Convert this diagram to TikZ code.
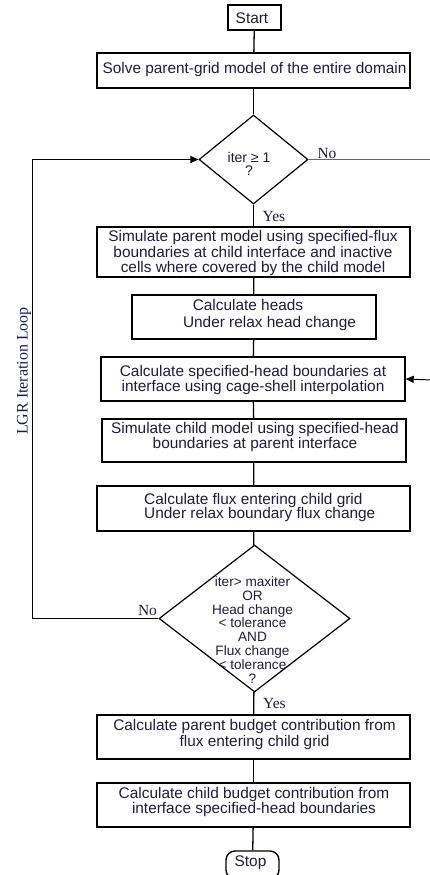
\documentclass[tikz,border=0pt]{standalone}
\usepackage{fontspec}
\setmainfont{Liberation Sans}
\newfontfamily\serifnb{Liberation Serif}
\usetikzlibrary{shapes.geometric,arrows.meta}
\definecolor{navy}{RGB}{28,28,64}
\definecolor{loopblue}{RGB}{22,32,92}
\begin{document}
\begin{tikzpicture}[x=1pt,y=-1pt,
  boxnode/.style n args={2}{draw,line width=1.4pt,inner sep=0,minimum width=#1,minimum height=#2},
  decnode/.style n args={2}{draw,diamond,line width=1.2pt,inner sep=0,minimum width=#1,minimum height=#2},
  tx/.style={text=navy,inner sep=0,align=center,font=\fontsize{15.4}{#1}\selectfont},
  tx/.default=15,
  lbl/.style={text=navy,inner sep=0,font=\serifnb\fontsize{15.5}{16}\selectfont},
  conn/.style={line width=1.3pt},
  tip/.style={-{Triangle[length=8pt,width=7pt]}}]
\path[use as bounding box] (0,0) rectangle (430,875);
\clip (0,0) rectangle (430,875);

% boxes
\node[boxnode={53pt}{25pt}] (start) at (254.5,17.5) {};
\node[boxnode={313pt}{35pt}] (solve) at (253.5,70.5) {};
\node[decnode={109pt}{89pt}] (d1) at (253.5,159.5) {};
\node[boxnode={313pt}{50pt}] (b3) at (253.5,252) {};
\node[boxnode={244pt}{44pt}] (b4) at (254,317) {};
\node[boxnode={304pt}{44pt}] (b5) at (253,379) {};
\node[boxnode={304pt}{43pt}] (b6) at (254,440.5) {};
\node[boxnode={313pt}{45pt}] (b7) at (253.5,508.5) {};
\node[decnode={191pt}{147pt}] (d2) at (254.5,618.5) {};
\node[boxnode={313pt}{44pt}] (b8) at (253.5,737) {};
\node[boxnode={313pt}{44pt}] (b9) at (253.5,805) {};
\node[boxnode={53pt}{28pt},rounded corners=9pt] (stop) at (252.5,865) {};

% texts
\node[tx] (tstart) at (252,18.5) {Start};
\node[tx] (tsolve) at (254.5,70) {Solve parent-grid model of the entire domain};
\node[tx={12.5},font=\fontsize{14}{12.5}\selectfont] (td1) at (249,164) {iter ≥ 1\\?};
\node[tx={15.5}] (t3) at (253,253.5) {Simulate parent model using specified-flux\\boundaries at child interface and inactive\\cells where covered by the child model};
\node[tx={17}] (t4) at (254,315.5) {Calculate heads\hbox to 12pt{}\\\hbox to 31pt{}Under relax head change};
\node[tx={15}] (t5) at (253,380.5) {Calculate specified-head boundaries at\\interface using cage-shell interpolation};
\node[tx={15}] (t6) at (255,437.5) {Simulate child model using specified-head\\boundaries at parent interface};
\node[tx={14.5},align=left,anchor=west] (t7) at (144,507.5) {Calculate flux entering child grid\\Under relax boundary flux change};
\node[tx,font=\fontsize{13.6}{13.9}\selectfont] (td2) at (252.5,630) {iter> maxiter\\OR\\Head change\\< tolerance\\AND\\Flux change\\< tolerance\\?};
\node[tx={13}] (t8) at (254.5,734.5) {Calculate parent budget contribution from\\flux entering child grid};
\node[tx={13.5}] (t9) at (254,802) {Calculate child budget contribution from\\interface specified-head boundaries};
\node[tx] (tstop) at (250.5,863) {Stop};

% labels
\node[lbl] (no1) at (327,153) {No};
\node[lbl] (yes1) at (274,216) {Yes};
\node[lbl] (no2) at (147.5,610) {No};
\node[lbl] (yes2) at (274.5,703) {Yes};
\node[text=loopblue,inner sep=0,rotate=90,font=\serifnb\fontsize{16}{16}\selectfont] (loop) at (24,371) {LGR Iteration Loop};

% connectors
\draw[conn] (start) -- (solve);
\draw[conn] (solve) -- (d1);
\draw[conn] (d1) -- (b3);
\draw[conn] (b3) -- (b4);
\draw[conn] (b4) -- (b5);
\draw[conn] (b5) -- (b6);
\draw[conn] (b6) -- (b7);
\draw[conn] (b7) -- (d2);
\draw[conn] (d2) -- (b8);
\draw[conn] (b8) -- (b9);
\draw[conn] (b9) -- (stop);

\coordinate (lb) at (32,618.5);
\coordinate (lt) at (32,159.5);
\draw[line width=1pt,tip] (d2.west) -- (lb) -- (lt) -- (d1.west);

\coordinate (r1) at (432,159.5);
\draw[line width=1pt,black!60] (d1.east) -- (r1);
\coordinate (r2) at (432,380);
\draw[line width=1pt,tip] (r2) -- (b5.east);
\end{tikzpicture}
\end{document}
